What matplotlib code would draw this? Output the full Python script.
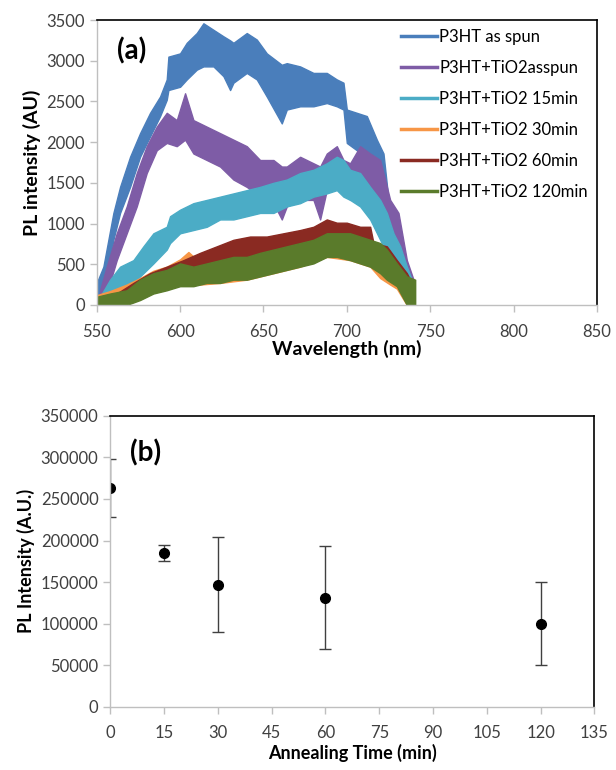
import matplotlib
matplotlib.use("Agg")
import matplotlib.pyplot as plt
from matplotlib.lines import Line2D
import numpy as np

plt.rcParams['font.family'] = ['Lato', 'DejaVu Sans']

# ---------------- (a) PL spectra: upper / lower envelope of the noisy traces ----------------
labels_a = ['P3HT as spun', 'P3HT+TiO2asspun', 'P3HT+TiO2 15min',
            'P3HT+TiO2 30min', 'P3HT+TiO2 60min', 'P3HT+TiO2 120min']
colors_a = ['#4A7EBB', '#7E5CA6', '#4BACC6', '#F79646', '#8A2A22', '#5A7B2B']

wl_blue = [550, 554, 560, 564, 570, 576, 582, 588, 592, 593, 600, 604, 610, 614, 620, 626, 630, 632,
           640, 646, 652, 661, 664, 672, 680, 688, 694, 698, 700, 706, 712, 718, 722, 725, 730]
hi_blue = [270, 470, 1130, 1450, 1820, 2110, 2360, 2560, 2770, 3050, 3090, 3220, 3340, 3460, 3380, 3300, 3250, 3220,
           3340, 3260, 3090, 2950, 2970, 2930, 2850, 2850, 2770, 2730, 2400, 2360, 2320, 2030, 1860, 1290, 1000]
lo_blue = [0, 60, 800, 1130, 1450, 1820, 2070, 2320, 2520, 2640, 2680, 2770, 2890, 2930, 2930, 2810, 2640, 2730,
           2850, 2770, 2560, 2230, 2400, 2440, 2440, 2480, 2440, 2400, 1990, 1900, 1700, 1500, 1290, 880, 600]

wl_purple = [552, 556, 562, 568, 574, 580, 586, 592, 598, 603, 608, 616, 624, 632, 640, 648, 656, 661, 664,
             672, 680, 684, 688, 694, 698, 702, 708, 714, 720, 726, 731, 736, 740]
hi_purple = [180, 470, 880, 1210, 1620, 1950, 2190, 2360, 2270, 2600, 2270, 2190, 2110, 2030, 1950, 1780, 1780, 1700, 1700,
             1820, 1740, 1700, 1860, 1950, 1780, 1740, 1950, 1860, 1780, 1290, 1130, 550, 310]
lo_purple = [0, 140, 550, 880, 1210, 1620, 1900, 1990, 1950, 2030, 1860, 1780, 1700, 1540, 1450, 1330, 1250, 1050, 1210,
             1290, 1290, 1050, 1410, 1540, 1450, 1290, 1370, 1210, 1050, 720, 510, 310, 0]

wl_cyan = [552, 558, 564, 572, 578, 584, 592, 594, 600, 608, 616, 624, 632, 640, 648, 656, 664, 672, 680,
           688, 694, 698, 702, 708, 714, 720, 724, 728, 732, 736, 739]
hi_cyan = [100, 310, 470, 550, 720, 880, 960, 1090, 1170, 1250, 1290, 1330, 1370, 1410, 1450, 1500, 1540, 1620, 1660,
           1740, 1820, 1780, 1660, 1620, 1450, 1290, 1130, 880, 720, 470, 310]
lo_cyan = [0, 60, 180, 270, 390, 510, 680, 760, 880, 920, 960, 1050, 1050, 1090, 1130, 1130, 1210, 1250, 1330,
           1370, 1410, 1330, 1290, 1210, 1050, 800, 640, 550, 470, 310, 0]

wl_orange = [550, 558, 568, 576, 584, 592, 600, 605, 612, 624, 640, 656, 672, 688, 702, 714, 720, 726, 730, 736, 740]
hi_orange = [120, 170, 250, 330, 420, 470, 560, 650, 520, 560, 600, 680, 760, 880, 880, 800, 720, 640, 500, 350, 300]
lo_orange = [0, 40, 60, 120, 180, 230, 280, 300, 250, 270, 310, 390, 470, 590, 550, 470, 330, 250, 200, 0, 0]

wl_red = [552, 562, 572, 582, 592, 602, 612, 622, 632, 642, 652, 662, 672, 680, 688, 694, 700, 708, 714, 716,
          724, 730, 736, 740]
hi_red = [60, 140, 270, 390, 470, 550, 640, 720, 800, 840, 840, 880, 920, 960, 1050, 1010, 1010, 960, 960, 760,
          720, 550, 390, 230]
lo_red = [0, 0, 60, 140, 230, 310, 390, 430, 510, 510, 550, 590, 640, 680, 760, 720, 720, 680, 640, 470,
          470, 350, 140, 0]

wl_green = [550, 558, 568, 576, 584, 592, 600, 608, 616, 624, 632, 640, 648, 656, 664, 672, 680, 688, 694,
            702, 708, 714, 720, 724, 730, 736, 741]
hi_green = [100, 140, 180, 310, 390, 430, 510, 470, 510, 550, 590, 590, 640, 680, 720, 760, 800, 880, 880,
            880, 840, 800, 760, 680, 510, 350, 310]
lo_green = [0, 0, 0, 60, 140, 180, 230, 230, 270, 270, 310, 310, 350, 390, 430, 470, 510, 590, 590,
            550, 510, 470, 390, 310, 230, 0, 0]

# ---------------- (b) integrated PL vs annealing time ----------------
time_b = [0, 15, 30, 60, 120]
pl_b = [263000, 185000, 147000, 131000, 100000]
err_b = [35000, 10000, 57000, 62000, 50000]

# -----------------------------#

fig = plt.figure(figsize=(6.16, 7.7), dpi=100)
grey = '#BFBFBF'
txt = '#404040'

def style_axes(ax):
    for s in ['top', 'right']:
        ax.spines[s].set_color('black')
        ax.spines[s].set_linewidth(1.2)
    for s in ['left', 'bottom']:
        ax.spines[s].set_color(grey)
        ax.spines[s].set_linewidth(1.0)
    ax.tick_params(direction='out', length=5, width=1, color=grey, labelsize=12, labelcolor=txt)

ax1 = fig.add_axes([0.157, 0.604, 0.812, 0.370])
series = [(wl_blue, hi_blue, lo_blue), (wl_purple, hi_purple, lo_purple), (wl_cyan, hi_cyan, lo_cyan),
          (wl_orange, hi_orange, lo_orange), (wl_red, hi_red, lo_red), (wl_green, hi_green, lo_green)]
handles = []
for (wl, hi, lo), c, lab in zip(series, colors_a, labels_a):
    ax1.fill_between(wl, lo, hi, color=c, linewidth=1, edgecolor=c)
    handles.append(Line2D([], [], color=c, lw=2.5, label=lab))

ax1.set_xlim(550, 850)
ax1.set_ylim(0, 3500)
ax1.set_xticks(np.arange(550, 851, 50))
ax1.set_yticks(np.arange(0, 3501, 500))
style_axes(ax1)
ax1.tick_params(axis='x', pad=9)
ax1.set_ylabel('PL intensity (AU)', fontsize=14, fontweight='bold', labelpad=4)
ax1.set_xlabel('Wavelength (nm)', fontsize=14, fontweight='bold', labelpad=0)
ax1.text(0.04, 0.94, '(a)', transform=ax1.transAxes, fontsize=20, fontweight='bold', va='top')
ax1.legend(handles=handles, loc='upper right', bbox_to_anchor=(1.0, 1.0), frameon=False,
           fontsize=12, handlelength=2.2, handletextpad=0.1, labelspacing=0.9, borderaxespad=0.15)

ax2 = fig.add_axes([0.179, 0.082, 0.786, 0.378])
ax2.errorbar(time_b, pl_b, yerr=err_b, fmt='o', color='black', markersize=7,
             ecolor='#404040', elinewidth=1, capsize=4, capthick=1)
ax2.set_xlim(0, 135)
ax2.set_ylim(0, 350000)
ax2.set_xticks(np.arange(0, 136, 15))
ax2.set_yticks(np.arange(0, 350001, 50000))
style_axes(ax2)
ax2.tick_params(axis='x', pad=8)
ax2.set_ylabel('PL Intensity (A.U.)', fontsize=13, fontweight='bold', labelpad=4)
ax2.set_xlabel('Annealing Time (min)', fontsize=13, fontweight='bold', labelpad=2)
ax2.text(0.04, 0.92, '(b)', transform=ax2.transAxes, fontsize=20, fontweight='bold', va='top')

fig.savefig('out.png', dpi=100)
